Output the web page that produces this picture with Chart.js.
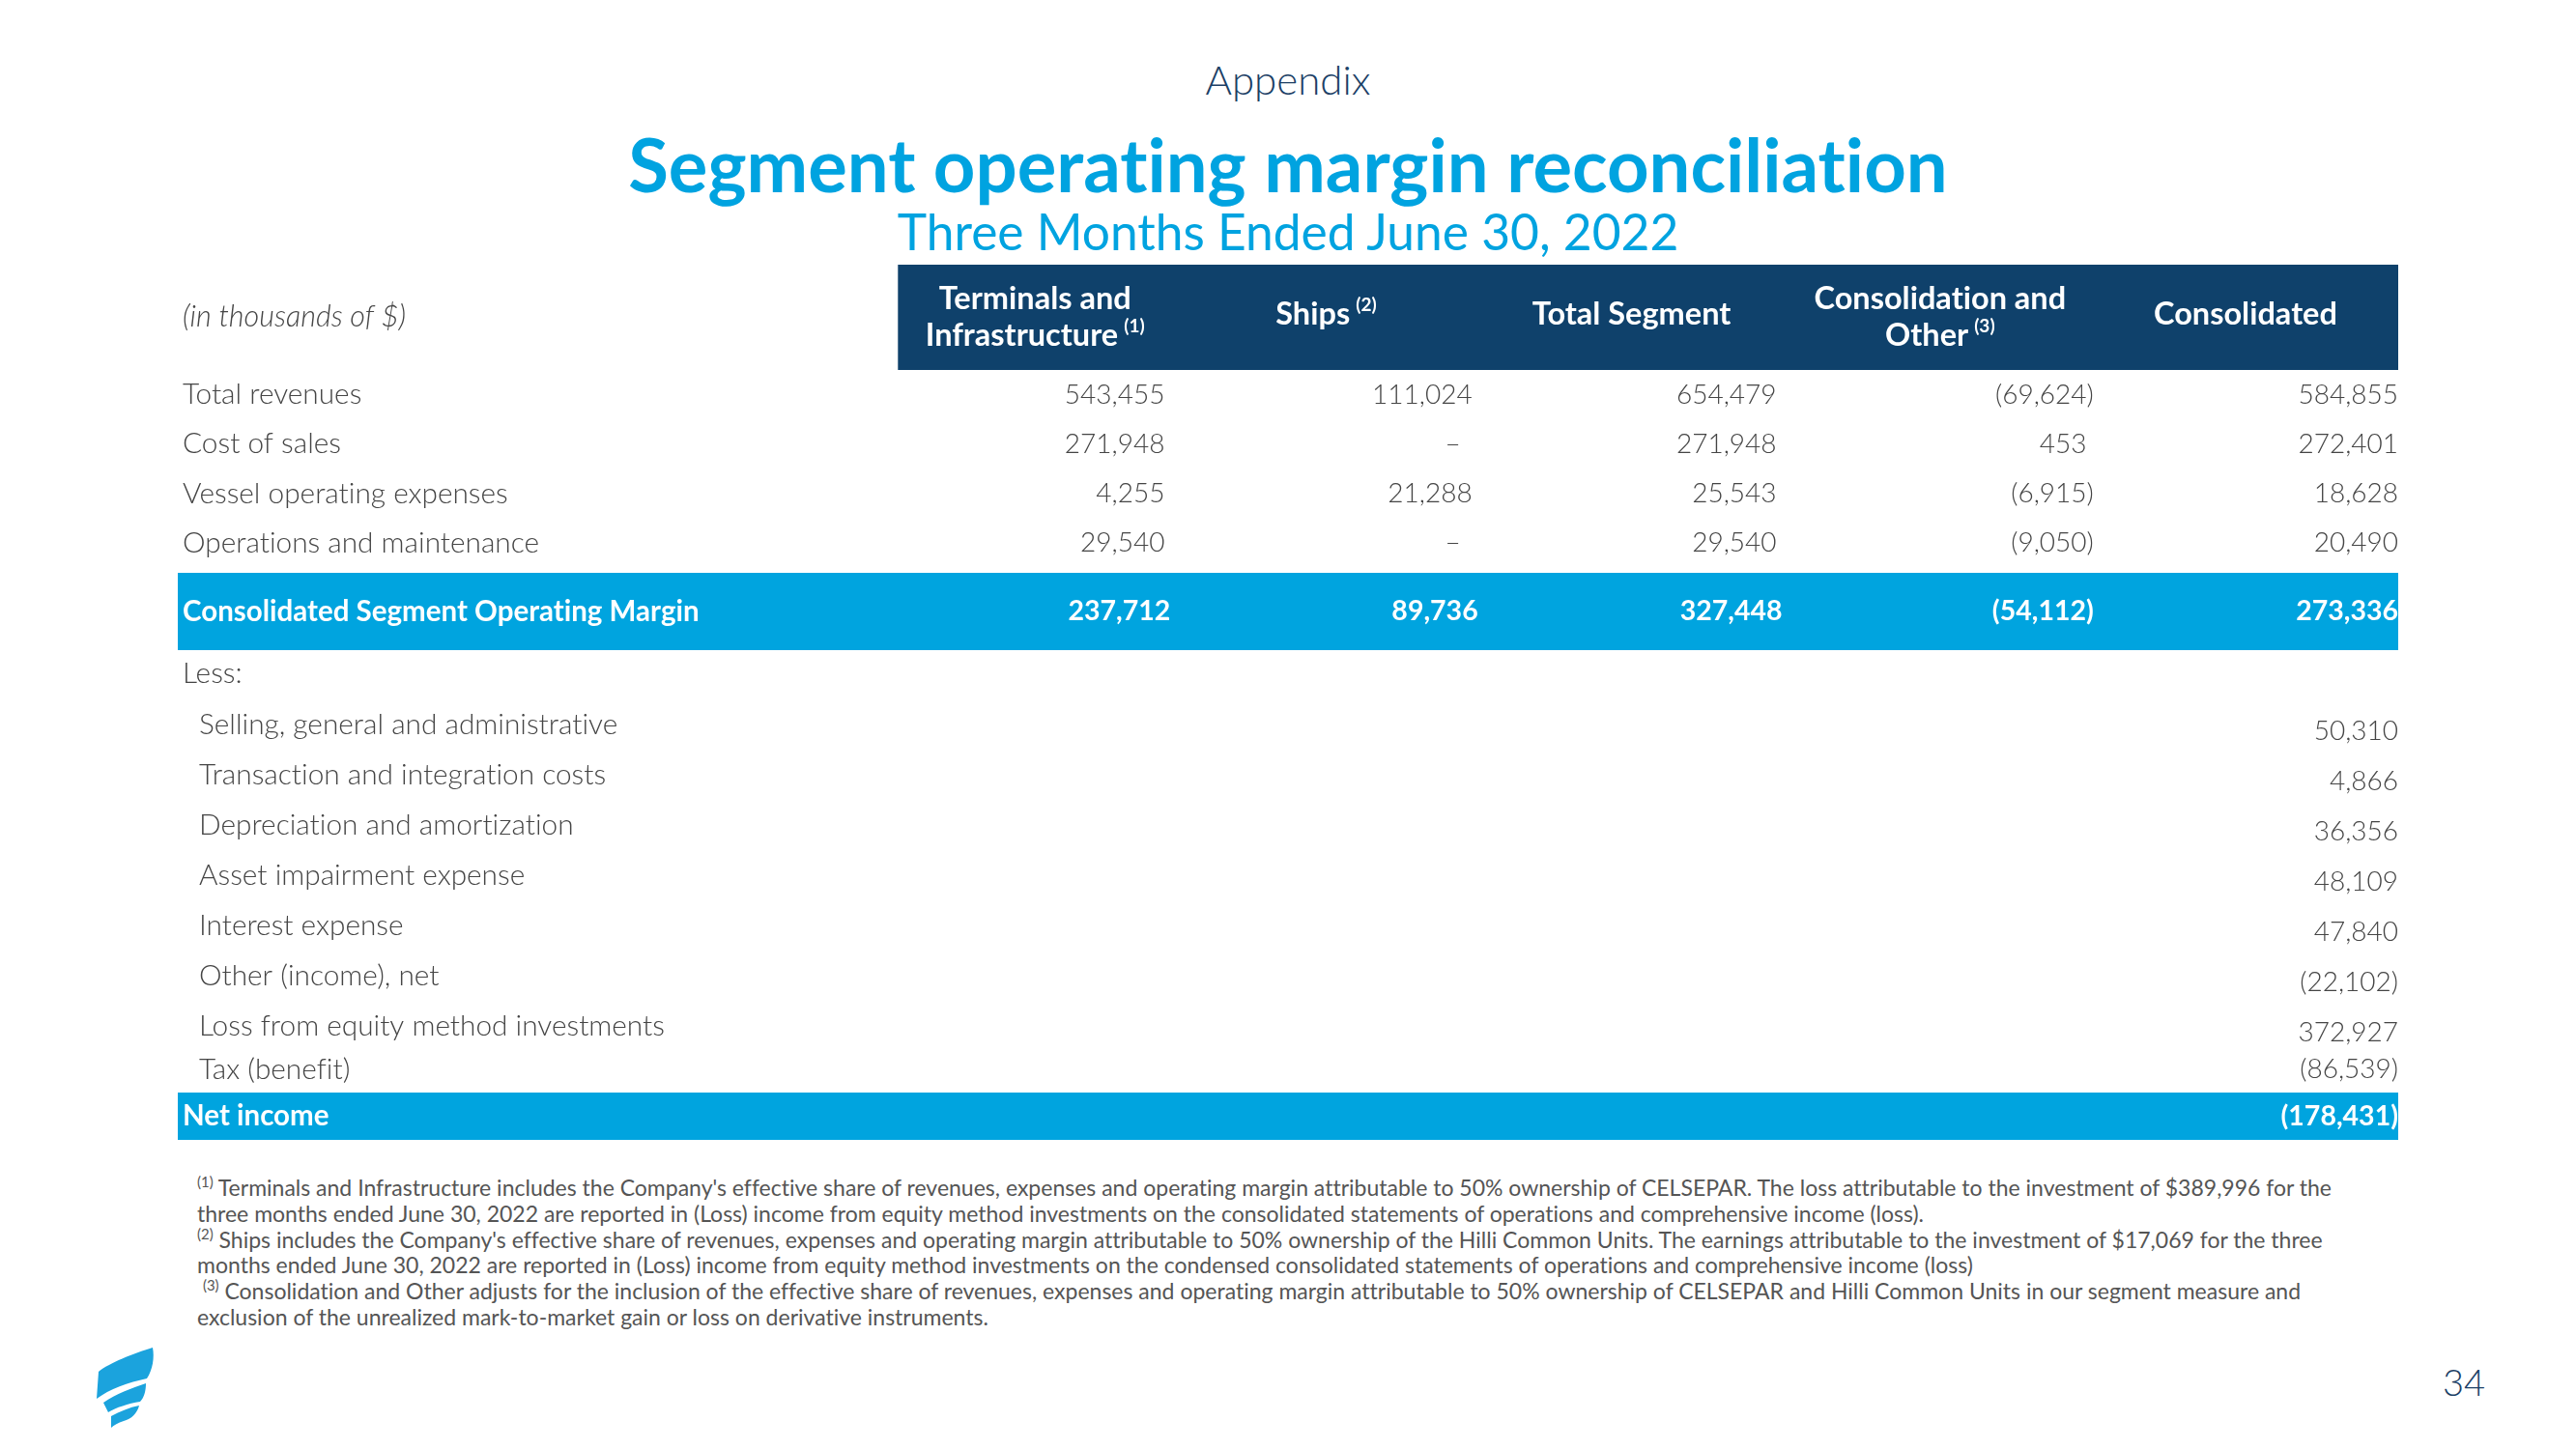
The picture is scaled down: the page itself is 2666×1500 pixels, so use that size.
<!DOCTYPE html>
<html>
<head>
<meta charset="utf-8">
<script src="https://cdn.jsdelivr.net/npm/chart.js@4.4.1/dist/chart.umd.min.js"></script>
<style>
  body { margin: 0; width: 2666px; height: 1500px; background: #fff; position: relative; overflow: hidden; font-family: Lato, "Open Sans", sans-serif; font-variant-ligatures: none; }
  .txt { position: absolute; white-space: nowrap; }
  #appendix { left: 0; width: 2666px; text-align: center; top: 55px; line-height: 54px; font-size: 42px; font-weight: 300; color: #1c3f66; }
  #title { left: 0; width: 2666px; text-align: center; top: 122px; line-height: 96px; font-size: 76px; font-weight: 700; color: #00a3e0; }
  #subtitle { left: 0; width: 2666px; text-align: center; top: 207px; line-height: 64px; font-size: 51.5px; font-weight: 400; color: #00a3e0; }
  #chartBox { position: absolute; left: 150px; top: 260px; width: 2370px; height: 935px; }
  #notes { position: absolute; left: 204px; top: 1216px; font-size: 23px; line-height: 26.8px; font-weight: 400; color: #555; }
  #notes div { white-space: nowrap; }
  #notes sup { font-size: 0.65em; line-height: 0; }
  #pageNo { right: 94px; top: 1406px; font-size: 38px; line-height: 48px; font-weight: 300; color: #1c3f66; }
  #logo { position: absolute; left: 98px; top: 1393px; }
</style>
</head>
<body>
<div class="txt" id="appendix">Appendix</div>
<div class="txt" id="title">Segment operating margin reconciliation</div>
<div class="txt" id="subtitle">Three Months Ended June 30, 2022</div>

<div id="chartBox"><canvas id="segmentTable"></canvas></div>

<div id="notes">
  <div><sup>(1)</sup> Terminals and Infrastructure includes the Company's effective share of revenues, expenses and operating margin attributable to 50% ownership of CELSEPAR. The loss attributable to the investment of $389,996 for the</div>
  <div>three months ended June 30, 2022 are reported in (Loss) income from equity method investments on the consolidated statements of operations and comprehensive income (loss).</div>
  <div><sup>(2)</sup> Ships includes the Company's effective share of revenues, expenses and operating margin attributable to 50% ownership of the Hilli Common Units. The earnings attributable to the investment of $17,069 for the three</div>
  <div>months ended June 30, 2022 are reported in (Loss) income from equity method investments on the condensed consolidated statements of operations and comprehensive income (loss)</div>
  <div>&nbsp;<sup>(3)</sup> Consolidation and Other adjusts for the inclusion of the effective share of revenues, expenses and operating margin attributable to 50% ownership of CELSEPAR and Hilli Common Units in our segment measure and</div>
  <div>exclusion of the unrealized mark-to-market gain or loss on derivative instruments.</div>
</div>

<svg id="logo" width="66" height="94" viewBox="0 0 66 94">
  <path d="M60,2 C40,8 15,18 4,27 L2,55 C15,45 35,38 54,34 C60,25 62,12 60,2 Z" fill="#1ba3dd"/>
  <path d="M9,59 C22,50 38,44 53,39 C53,47 51,54 47,58 C35,60 22,64 14,69 Z" fill="#1ba3dd"/>
  <path d="M17,73 C26,68 36,64 46,62 C44,70 38,76 30,78 C24,80 20,82 17,85 Z" fill="#1ba3dd"/>
</svg>
<div class="txt" id="pageNo">34</div>

<script>
// ---- TABLE DATA ----
const unitsNote = "(in thousands of $)";
const columnHeads = [
  ["Terminals and", "Infrastructure", "(1)"],
  ["Ships", "(2)"],
  ["Total Segment"],
  ["Consolidation and", "Other", "(3)"],
  ["Consolidated"]
];
const rowLabels = [
  "Total revenues",
  "Cost of sales",
  "Vessel operating expenses",
  "Operations and maintenance",
  "Consolidated Segment Operating Margin",
  "Less:",
  "Selling, general and administrative",
  "Transaction and integration costs",
  "Depreciation and amortization",
  "Asset impairment expense",
  "Interest expense",
  "Other (income), net",
  "Loss from equity method investments",
  "Tax (benefit)",
  "Net income"
];
// null = empty cell, 0 = dash
const terminals    = [543455, 271948, 4255, 29540, 237712, null, null, null, null, null, null, null, null, null, null];
const ships        = [111024, 0, 21288, 0, 89736, null, null, null, null, null, null, null, null, null, null];
const totalSegment = [654479, 271948, 25543, 29540, 327448, null, null, null, null, null, null, null, null, null, null];
const consOther    = [-69624, 453, -6915, -9050, -54112, null, null, null, null, null, null, null, null, null, null];
const consolidated = [584855, 272401, 18628, 20490, 273336, null, 50310, 4866, 36356, 48109, 47840, -22102, 372927, -86539, -178431];

const columns = [terminals, ships, totalSegment, consOther, consolidated];
const boldRows = [4, 14];
const subRows = [6, 7, 8, 9, 10, 11, 12, 13];

// ---- LAYOUT (y units = px from table top, x units = value columns) ----
const headerHeight = 109;
const rowHeights = [51.25, 51.25, 51.25, 51.25, 85, 49, 52, 52, 52, 52, 52, 52, 52, 42, 52];
const bandInset = { 4: 5, 14: 3 };
const colRightPad = [0.111, 0.086, 0.072, 0.015, 0.0];
const headCenter = [0.457, 0.427, 0.445, 0.473, 0.491];
const labelColumnWidth = 2.4;
const lessValueDrop = 9;

const rowTops = [];
let acc = headerHeight;
rowHeights.forEach((h) => { rowTops.push(acc); acc += h; });
const tableHeight = acc;

function rowCenter(r) {
  const inset = bandInset[r] || 0;
  return rowTops[r] + inset + (rowHeights[r] - inset) / 2;
}

function fmt(v) {
  if (v === 0) return "\u2013";
  const s = Math.abs(v).toLocaleString("en-US");
  return v < 0 ? "(" + s + ")" : s;
}

const FONT = "Lato, 'Open Sans', sans-serif";
const textGrey = "#454545";
const navy = "#0f416b";
const cyan = "#00a4df";

const tablePlugin = {
  id: "tableCells",
  beforeDatasetsDraw(chart) {
    const { ctx, chartArea, scales: { x, y } } = chart;
    ctx.save();
    // header band
    ctx.fillStyle = navy;
    const hx0 = x.getPixelForValue(0), hx1 = x.getPixelForValue(5);
    const hy0 = y.getPixelForValue(0), hy1 = y.getPixelForValue(headerHeight);
    ctx.fillRect(hx0, hy0, hx1 - hx0, hy1 - hy0);
    // highlighted rows
    ctx.fillStyle = cyan;
    boldRows.forEach((r) => {
      const top = y.getPixelForValue(rowTops[r] + (bandInset[r] || 0));
      const bot = y.getPixelForValue(rowTops[r] + rowHeights[r]);
      ctx.fillRect(chartArea.left, top, chartArea.right - chartArea.left, bot - top);
    });
    ctx.restore();
  },
  afterDatasetsDraw(chart) {
    const { ctx, scales: { x, y } } = chart;
    ctx.save();
    ctx.textBaseline = "middle";

    // header texts
    const hMid = y.getPixelForValue(headerHeight / 2);
    columnHeads.forEach((head, c) => {
      const cx = x.getPixelForValue(c + headCenter[c]);
      const hasSup = head[head.length - 1].startsWith("(");
      const lines = hasSup ? head.slice(0, -1) : head.slice();
      const sup = hasSup ? head[head.length - 1] : null;
      const ys = lines.length === 2 ? [hMid - 19, hMid + 19] : [hMid - 3];
      ctx.fillStyle = "#fff";
      lines.forEach((line, i) => {
        ctx.font = "700 32.5px " + FONT;
        const last = i === lines.length - 1;
        let w = ctx.measureText(line).width;
        let sw = 0;
        if (last && sup) {
          ctx.font = "700 19px " + FONT;
          sw = ctx.measureText(sup).width + 6;
        }
        const left = cx - (w + sw) / 2;
        ctx.font = "700 32.5px " + FONT;
        ctx.textAlign = "left";
        ctx.fillText(line, left, ys[i]);
        if (last && sup) {
          ctx.font = "700 19px " + FONT;
          ctx.fillText(sup, left + w + 6, ys[i] - 10);
        }
      });
    });
    ctx.font = "italic 300 30.5px " + FONT;
    ctx.fillStyle = textGrey;
    ctx.textAlign = "left";
    ctx.fillText(unitsNote, x.getPixelForValue(-labelColumnWidth) + 5, hMid);

    // row labels
    rowLabels.forEach((label, r) => {
      const bold = boldRows.includes(r);
      ctx.font = (bold ? "700 29.5px " : "300 29.8px ") + FONT;
      ctx.fillStyle = bold ? "#fff" : textGrey;
      const indent = subRows.includes(r) ? 22 : 5;
      const drop = subRows.includes(r) && r !== 13 ? 2 : 0;
      ctx.fillText(label, x.getPixelForValue(-labelColumnWidth) + indent, y.getPixelForValue(rowCenter(r) + drop));
    });

    // values, placed at each dataset point
    ctx.textAlign = "right";
    chart.data.datasets.forEach((ds, c) => {
      const meta = chart.getDatasetMeta(c);
      meta.data.forEach((pt, i) => {
        const cell = ds.data[i];
        const bold = boldRows.includes(cell.r);
        ctx.font = (bold ? "700 28.5px " : "300 28px ") + FONT;
        ctx.fillStyle = bold ? "#fff" : textGrey;
        let px = pt.x;
        if (c === 3 && cell.v >= 0) px -= ctx.measureText(")").width;
        if (cell.v === 0) px -= 12;
        if (bold && c < 3) px += 6;
        ctx.fillText(fmt(cell.v), px, pt.y);
      });
    });
    ctx.restore();
  }
};

const datasets = columns.map((vals, c) => ({
  label: columnHeads[c].join(" "),
  data: vals
    .map((v, r) => (v === null ? null : {
      x: c + 1 - colRightPad[c],
      y: rowCenter(r) + (subRows.includes(r) && r !== 13 ? lessValueDrop : 0),
      v: v,
      r: r
    }))
    .filter((d) => d !== null),
  pointRadius: 0,
  pointHoverRadius: 0,
  showLine: false
}));

new Chart(document.getElementById("segmentTable"), {
  type: "scatter",
  data: { datasets },
  options: {
    responsive: true,
    maintainAspectRatio: false,
    animation: false,
    devicePixelRatio: 1,
    layout: { padding: { left: 34, right: 38, top: 14, bottom: 15 } },
    plugins: { legend: { display: false }, tooltip: { enabled: false } },
    scales: {
      x: { type: "linear", min: -labelColumnWidth, max: 5, display: false },
      y: { type: "linear", min: 0, max: tableHeight, reverse: true, display: false }
    }
  },
  plugins: [tablePlugin]
});
</script>
</body>
</html>
